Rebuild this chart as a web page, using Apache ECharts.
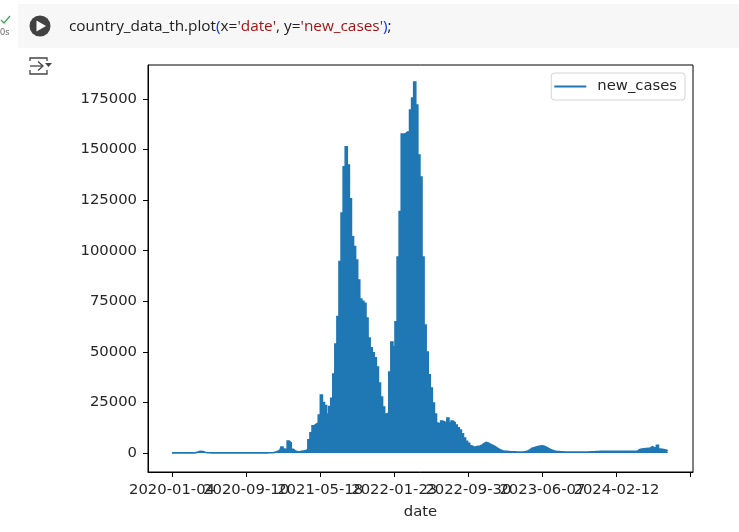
<!DOCTYPE html>
<html lang="en">
<head>
    <meta charset="UTF-8">
    <title>new_cases</title>
    <script src="https://cdn.jsdelivr.net/npm/echarts@6/dist/echarts.min.js"></script>
    <style>
        html, body { margin: 0; padding: 0; background: #fff; }
        #container { width: 739px; height: 532px; }
    </style>
</head>
<body>
<div id="container"></div>
<script>
    // weekly new cases (one value per 7 days from 2020-01-04)
    var weeklyCases = [
        50, 50, 50, 50, 50, 50, 50, 50, 50, 50,
        50, 50, 300, 700, 800, 700, 400, 200, 100, 80,
        60, 60, 60, 60, 60, 60, 60, 60, 60, 60,
        60, 60, 60, 60, 60, 60, 60, 60, 60, 60,
        60, 60, 60, 60, 70, 80, 80, 90, 100, 200,
        500, 900, 1400, 3000, 2000, 1500, 5900, 5000, 1800, 1000,
        700, 600, 800, 1000, 1200, 1800, 6500, 10000, 13500, 14200,
        14800, 18800, 28600, 24900, 23400, 19300, 22900, 27000, 39000, 53900,
        67400, 94600, 118600, 141500, 151400, 142400, 125600, 106900, 102000, 95400,
        85500, 76100, 75000, 74000, 66700, 56800, 52000, 49500, 47000, 42500,
        34600, 27700, 22700, 19300, 19800, 40000, 54900, 52500, 64900, 96900,
        119300, 157700, 157800, 158700, 158700, 169500, 175500, 183400, 172000, 147300,
        136400, 96900, 63300, 49900, 38600, 32100, 24700, 19300, 14800, 14000,
        15800, 15300, 14500, 17300, 14800, 15800, 15000, 13800, 12500, 11400,
        9500, 7400, 5800, 4800, 3600, 3000, 3100, 3300, 3500, 4000,
        4700, 5300, 5000, 4400, 3900, 3400, 2700, 2000, 1500, 1100,
        900, 800, 700, 600, 600, 550, 500, 500, 500, 500,
        700, 1000, 1500, 2300, 2600, 2900, 3200, 3500, 3600, 3300,
        2800, 2300, 1800, 1300, 1000, 800, 700, 600, 550, 500,
        500, 500, 500, 500, 500, 500, 500, 500, 500, 500,
        500, 550, 600, 650, 700, 750, 800, 800, 800, 800,
        800, 800, 800, 800, 800, 800, 800, 800, 800, 800,
        800, 800, 800, 850, 1000, 1700, 2000, 2100, 2200, 2300,
        2400, 3100, 2700, 2500, 3800, 2000, 1800, 1600, 1400, 1100
    ];
    var xAxisStart = -81;
    var xTickDays = [0, 250, 500, 750, 1000, 1250, 1500, 1750];
    var xTickLabels = ['2020-01-04', '2020-09-10', '2021-05-18', '2022-01-23', '2022-09-30', '2023-06-07', '2024-02-12', ''];
    var yTicks = [0, 25000, 50000, 75000, 100000, 125000, 150000, 175000];

    var textColor = '#262626';
    var tickFont = 'DejaVu Sans';
    var codeFont = '15.35px "Open Sans"';

    // echarts hides a tick label that overlaps the first one, the labels here do overlap.
    // so the first entry is a dummy at the axis start, dropped by showMinLabel: false
    var xAxisMarks = [xAxisStart].concat(xTickDays);

    var myChart = echarts.init(document.getElementById('container'));
    myChart.setOption({
        animation: false,
        backgroundColor: '#fff',
        textStyle: {fontFamily: tickFont},
        grid: {
            left: 148, right: 46, top: 65, bottom: 60,
            show: true, borderColor: '#000', borderWidth: 1,
            outerBoundsMode: 'none'
        },
        legend: {
            top: 73, right: 54,
            icon: 'rect',
            itemWidth: 32, itemHeight: 2, itemGap: 0,
            padding: [6, 8, 6, 3],
            borderColor: '#d5d5d5', borderWidth: 1, borderRadius: 3,
            textStyle: {fontFamily: tickFont, fontSize: 14.8, color: textColor, padding: [0, 0, 0, 6]},
            data: ['new_cases']
        },
        xAxis: {
            type: 'value',
            min: xAxisStart, max: 1758,
            name: 'date',
            nameLocation: 'middle',
            nameGap: 33,
            nameTextStyle: {fontFamily: tickFont, fontSize: 14.8, color: textColor},
            splitLine: {show: false},
            axisLine: {onZero: false, lineStyle: {color: '#000'}},
            axisTick: {show: true, length: 5, customValues: xAxisMarks, lineStyle: {color: '#000'}},
            axisLabel: {
                customValues: xAxisMarks,
                showMinLabel: false,
                hideOverlap: false,
                fontFamily: tickFont, fontSize: 14.8, color: textColor, margin: 11,
                formatter: function (v) {
                    var i = xTickDays.indexOf(v);
                    return i < 0 ? '' : xTickLabels[i];
                }
            }
        },
        yAxis: {
            type: 'value',
            min: -9393, max: 191800,
            splitLine: {show: false},
            axisLine: {show: true, onZero: false, lineStyle: {color: '#000'}},
            axisTick: {show: true, length: 5, customValues: yTicks, lineStyle: {color: '#000'}},
            axisLabel: {
                customValues: yTicks,
                showMinLabel: true, showMaxLabel: true,
                fontFamily: tickFont, fontSize: 14.8, color: textColor, margin: 11,
                formatter: function (v) { return String(v); }
            }
        },
        series: [{
            name: 'new_cases',
            type: 'line',
            step: 'middle',
            symbol: 'none',
            color: '#1f77b4',
            lineStyle: {width: 1.6, color: '#1f77b4', join: 'miter'},
            areaStyle: {color: '#1f77b4', opacity: 1},
            data: weeklyCases.map(function (v, i) { return [i * 7, v]; })
        }],
        // notebook cell around the plot
        graphic: [
            {type: 'rect', silent: true, z: -1, shape: {x: 18, y: 4, width: 721, height: 44}, style: {fill: '#f7f7f7'}},
            {type: 'circle', silent: true, shape: {cx: 40, cy: 26, r: 10.5}, style: {fill: '#424242'}},
            {type: 'polygon', silent: true, shape: {points: [[36.5, 20.5], [36.5, 31.5], [46, 26]]}, style: {fill: '#fff'}},
            {type: 'polyline', silent: true, shape: {points: [[1, 20], [4, 23], [10, 16]]}, style: {stroke: '#34a853', fill: null, lineWidth: 1.2}},
            {type: 'text', silent: true, style: {x: 0, y: 28, text: '0s', fill: '#616161', font: '9px "Open Sans"'}},
            {type: 'polyline', silent: true, shape: {points: [[30, 61], [30, 58], [47, 58], [47, 61]]}, style: {stroke: '#444', fill: null, lineWidth: 1.3}},
            {type: 'polyline', silent: true, shape: {points: [[30, 70], [30, 74], [47, 74], [47, 70]]}, style: {stroke: '#444', fill: null, lineWidth: 1.3}},
            {type: 'polyline', silent: true, shape: {points: [[30, 66], [43, 66]]}, style: {stroke: '#444', fill: null, lineWidth: 1.3}},
            {type: 'polyline', silent: true, shape: {points: [[38, 61.5], [43, 66], [38, 70.5]]}, style: {stroke: '#444', fill: null, lineWidth: 1.3}},
            {type: 'polygon', silent: true, shape: {points: [[45, 63], [52, 63], [48.5, 67]]}, style: {fill: '#444'}},
            {
                type: 'text', silent: true,
                style: {
                    x: 69, y: 19,
                    text: "{k|country_data_th.plot}{b|(}{k|x=}{r|'date'}{k|, y=}{r|'new_cases'}{b|)}{k|;}",
                    rich: {
                        k: {fill: '#212121', font: codeFont},
                        r: {fill: '#a31515', font: codeFont},
                        b: {fill: '#0431fa', font: codeFont}
                    }
                }
            }
        ]
    });
</script>
</body>
</html>
